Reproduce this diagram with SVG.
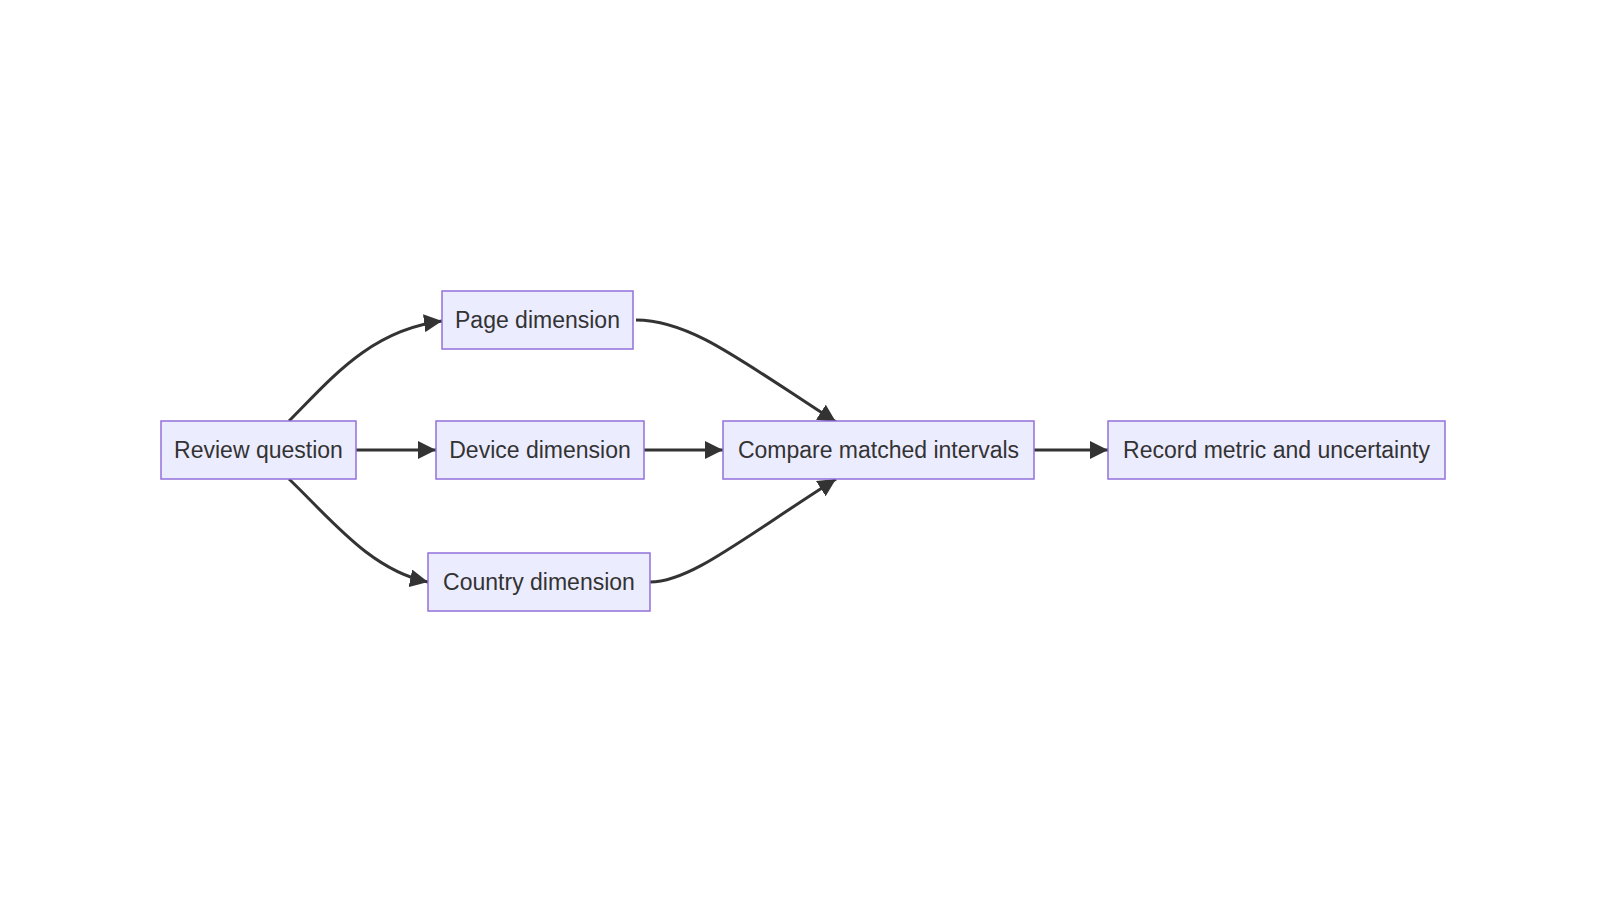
<svg xmlns="http://www.w3.org/2000/svg" width="1600" height="900" viewBox="0 0 1600 900">
<style>
.n rect{fill:#ECECFF;stroke:#9370DB;stroke-width:1.5}
.n text{font-family:"Liberation Sans",Arial,sans-serif;font-size:23px;fill:#333;text-anchor:middle;dominant-baseline:central}
.e path{fill:none;stroke:#333;stroke-width:3}
</style>
<defs><marker id="a" viewBox="0 0 10 10" refX="10" refY="5" markerWidth="6" markerHeight="6" markerUnits="strokeWidth" orient="auto"><path d="M0,0L10,5L0,10z" fill="#333"/></marker></defs>
<rect width="1600" height="900" fill="#fff"/>
<g class="e">
<path d="M289,421C330,380 370,330 442,321" marker-end="url(#a)"/>
<path d="M356,450H436" marker-end="url(#a)"/>
<path d="M289,479C330,518 370,570 428,582" marker-end="url(#a)"/>
<path d="M636,320C690,320 740,360 836,422" marker-end="url(#a)"/>
<path d="M644,450H723" marker-end="url(#a)"/>
<path d="M650,582C690,582 740,540 836,479" marker-end="url(#a)"/>
<path d="M1034,450H1108" marker-end="url(#a)"/>
</g>
<g id="review" class="n"><rect x="161" y="421" width="195" height="58"/><text x="258.5" y="450">Review question</text></g>
<g id="page" class="n"><rect x="442" y="291" width="191" height="58"/><text x="537.5" y="320">Page dimension</text></g>
<g id="device" class="n"><rect x="436" y="421" width="208" height="58"/><text x="540" y="450">Device dimension</text></g>
<g id="country" class="n"><rect x="428" y="553" width="222" height="58"/><text x="539" y="582">Country dimension</text></g>
<g id="compare" class="n"><rect x="723" y="421" width="311" height="58"/><text x="878.5" y="450">Compare matched intervals</text></g>
<g id="record" class="n"><rect x="1108" y="421" width="337" height="58"/><text x="1276.5" y="450">Record metric and uncertainty</text></g>
</svg>
